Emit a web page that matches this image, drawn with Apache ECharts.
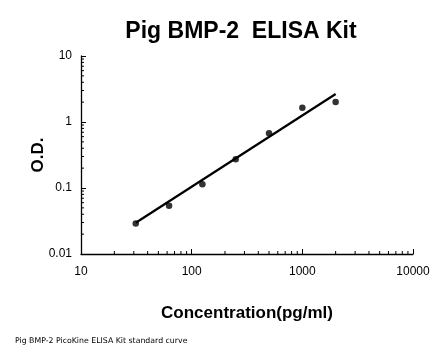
<!DOCTYPE html>
<html><head><meta charset="utf-8">
<script src="https://cdn.jsdelivr.net/npm/echarts@6/dist/echarts.min.js"></script>
<style>html,body{margin:0;padding:0;background:#fff}#c{width:446px;height:356px}</style>
</head><body><div id="c"></div>
<script>
const concentrations = [31.25, 62.5, 125, 250, 500, 1000, 2000];
const odValues = [0.029, 0.054, 0.114, 0.272, 0.674, 1.65, 2.01];
const fitX = [31.25, 2000];
const fitY = [0.0298, 2.66];
const xTicks = [10, 100, 1000, 10000];
const yTicks = [0.01, 0.1, 1, 10];

const xMinor = [], yMinor = [];
for (let d = 10; d < 10000; d *= 10) for (let k = 2; k <= 9; k++) xMinor.push(d * k);
for (let d = 0.01; d < 10 - 1e-9; d *= 10) for (let k = 2; k <= 9; k++) yMinor.push(+(d * k).toPrecision(3));

const chart = echarts.init(document.getElementById('c'));
const font = 'Arial, "Liberation Sans", sans-serif';
chart.setOption({
  animation: false,
  title: [
    {text: 'Pig BMP-2  ELISA Kit', left: 241, top: 20, padding: 0, textAlign: 'center',
     textStyle: {fontFamily: font, fontSize: 23, fontWeight: 'bold', color: '#000'}},
    {text: 'Pig BMP-2 PicoKine ELISA Kit standard curve', left: 15, top: 337, padding: 0,
     textStyle: {fontFamily: '"DejaVu Sans", sans-serif', fontSize: 7.8, fontWeight: 'normal', color: '#000'}}
  ],
  grid: {left: 81, right: 33, top: 56, bottom: 102},
  xAxis: {
    type: 'log', min: 10, max: 10000, logBase: 10,
    name: 'Concentration(pg/ml)', nameLocation: 'middle', nameGap: 51, nameMoveOverlap: false,
    nameTextStyle: {fontFamily: font, fontSize: 17, fontWeight: 'bold', color: '#000'},
    axisLine: {lineStyle: {color: '#000', width: 1.3}},
    axisTick: {inside: true, length: 5, lineStyle: {color: '#000'}},
    axisLabel: {fontFamily: font, fontSize: 12, color: '#000', margin: 12,
      formatter: v => xTicks.includes(v) ? String(v) : ''},
    splitLine: {show: false}
  },
  yAxis: {
    type: 'log', min: 0.01, max: 10, logBase: 10,
    name: 'O.D.', nameLocation: 'middle', nameGap: 34, nameRotate: 90, nameMoveOverlap: false,
    nameTextStyle: {fontFamily: font, fontSize: 17, fontWeight: 'bold', color: '#000'},
    axisLine: {show: true, lineStyle: {color: '#000', width: 1.3}},
    axisTick: {show: true, inside: true, length: 5, lineStyle: {color: '#000'}},
    axisLabel: {fontFamily: font, fontSize: 12, color: '#000', margin: 9,
      formatter: v => { const t = yTicks.find(x => Math.abs(x - v) / x < 1e-6); return t !== undefined ? String(t) : ''; }},
    splitLine: {show: false}
  },
  series: [
    {type: 'custom', silent: true, data: xMinor.map(v => [v, 0.01]),
     renderItem: (params, api) => {
       const p = api.coord([api.value(0), api.value(1)]);
       return {type: 'line', shape: {x1: p[0], y1: p[1], x2: p[0], y2: p[1] - 3}, style: {stroke: '#000', lineWidth: 1}};
     }, z: 1},
    {type: 'custom', silent: true, data: yMinor.map(v => [10, v]),
     renderItem: (params, api) => {
       const p = api.coord([api.value(0), api.value(1)]);
       return {type: 'line', shape: {x1: p[0], y1: p[1], x2: p[0] + 3, y2: p[1]}, style: {stroke: '#000', lineWidth: 1}};
     }, z: 1},
    {type: 'line', data: fitX.map((x, i) => [x, fitY[i]]), symbol: 'none',
     lineStyle: {color: '#000', width: 2.2}, z: 2},
    {type: 'scatter', data: concentrations.map((x, i) => [x, odValues[i]]), symbol: 'circle', symbolSize: 6.5,
     itemStyle: {color: '#000'}, z: 3}
  ]
});
</script></body></html>
